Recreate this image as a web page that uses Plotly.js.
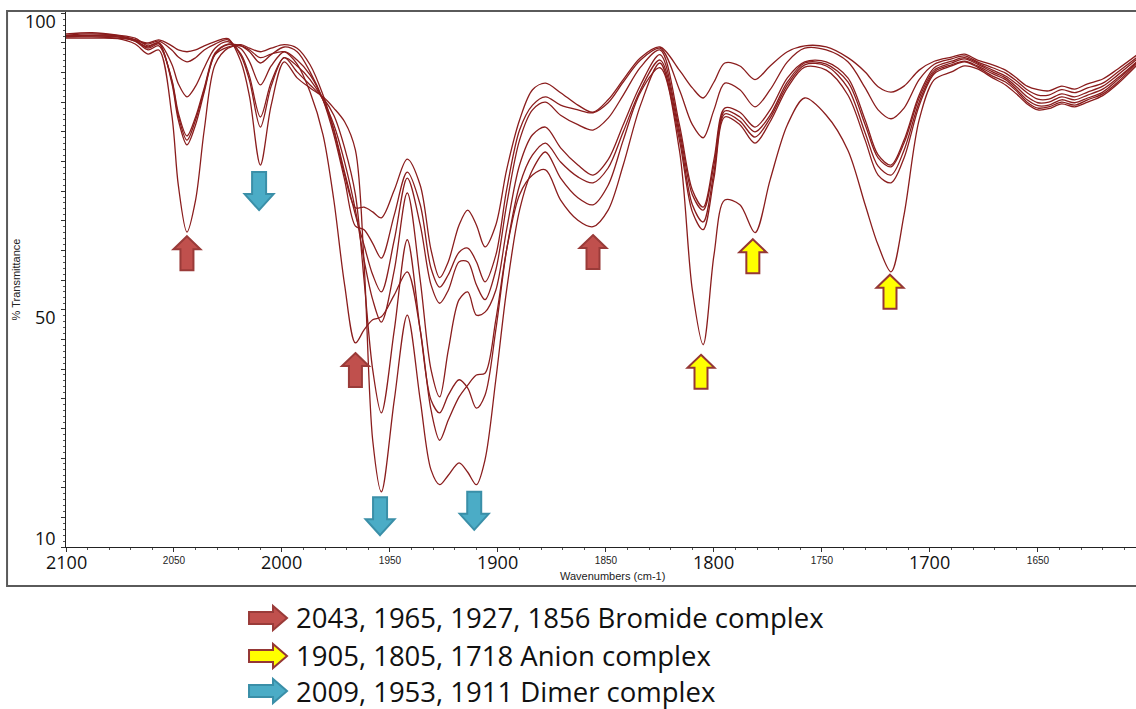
<!DOCTYPE html>
<html>
<head>
<meta charset="utf-8">
<script src="https://cdn.plot.ly/plotly-3.0.1.min.js"></script>
<style>
  html, body { margin: 0; padding: 0; background: #ffffff; }
  #chart { width: 1136px; height: 709px; }
</style>
</head>
<body>
<div id="chart"></div>
<script>
// Wavenumber grid (cm-1) shared by all spectra
const wavenumber = [
  2100, 2088, 2076, 2068, 2062, 2057, 2051, 2048, 2044, 2040, 2036, 2031, 2025, 2019, 2015, 2010, 2005, 1999, 1993,
  1987, 1981, 1976, 1971, 1966, 1962, 1958, 1954, 1948, 1942, 1936, 1931, 1927, 1923, 1918, 1914, 1910, 1906, 1901, 1896, 1890, 1884,
  1878, 1871, 1863, 1856, 1849, 1842, 1834, 1825, 1816, 1810, 1805, 1800, 1795, 1788, 1781, 1774, 1766, 1758,
  1748, 1738, 1730, 1724, 1718, 1712, 1705, 1698, 1690, 1684,
  1678, 1671, 1665, 1660, 1655, 1650, 1645, 1639, 1633, 1627, 1620, 1613, 1604
];

// % Transmittance of each spectrum
const spectrum1 = [
  96.5, 96.7, 96.3, 95.8, 94.5, 95.0, 88.2, 82.0, 77.8, 81.2, 86.7, 93.0, 94.3, 94.7, 94.1, 93.5, 94.1, 94.7, 94.1,
  91.3, 86.2, 80.3, 72.7, 67.2, 67.3, 66.5, 65.5, 70.2, 75.4, 71.0, 60.1, 55.4, 58.1, 64.3, 66.8, 64.3, 60.6, 64.3, 73.6, 82.0, 87.1,
  88.2, 86.6, 84.5, 83.3, 85.4, 88.8, 92.5, 94.3, 90.4, 87.4, 85.7, 88.4, 91.6, 91.1, 88.8, 91.1, 93.5, 94.5,
  94.3, 92.5, 90.1, 87.6, 86.7, 87.7, 90.4, 91.9, 92.6, 93.1,
  92.1, 91.3, 90.4, 89.1, 87.7, 87.1, 86.9, 87.7, 87.2, 88.1, 88.9, 90.6, 93.0
];
const spectrum2 = [
  96.3, 96.5, 96.2, 95.5, 94.1, 94.8, 88.6, 82.7, 78.6, 82.0, 87.1, 93.1, 94.7, 94.5, 93.5, 91.6, 93.0, 94.3, 93.5,
  90.1, 85.4, 79.5, 71.9, 64.1, 63.5, 61.2, 58.7, 66.0, 73.2, 67.7, 57.0, 53.8, 55.9, 59.7, 60.4, 58.1, 54.7, 59.2, 70.2, 80.3, 84.5,
  85.9, 84.5, 83.7, 83.2, 84.9, 88.4, 92.1, 94.1, 87.1, 81.2, 79.0, 83.7, 88.2, 87.1, 84.2, 87.1, 91.8, 94.1,
  93.8, 91.8, 87.4, 83.7, 82.2, 84.0, 88.8, 91.4, 92.3, 92.8,
  91.8, 90.8, 89.9, 88.6, 87.1, 86.2, 86.2, 87.1, 86.6, 87.4, 88.2, 90.1, 92.6
];
const spectrum3 = [
  96.2, 96.3, 96.2, 95.3, 93.8, 94.5, 88.8, 83.2, 79.3, 82.5, 87.4, 93.3, 94.8, 94.0, 91.8, 87.9, 91.1, 93.5, 92.1,
  89.6, 85.4, 80.3, 73.2, 66.0, 60.9, 55.9, 53.0, 61.8, 72.2, 64.3, 54.2, 51.1, 53.3, 58.1, 58.1, 54.2, 51.7, 56.7, 67.7, 78.6, 83.7,
  85.0, 82.8, 81.2, 80.3, 82.3, 86.2, 90.9, 93.8, 81.2, 70.2, 67.3, 75.3, 84.0, 83.3, 80.8, 83.7, 89.1, 91.8,
  91.8, 89.1, 82.0, 76.1, 74.4, 78.6, 86.2, 90.8, 91.9, 92.5,
  91.6, 90.4, 89.4, 88.1, 86.6, 85.5, 85.5, 86.4, 85.9, 86.7, 87.7, 89.6, 92.3
];
const spectrum4 = [
  96.2, 96.2, 96.0, 95.3, 94.3, 95.0, 91.4, 88.1, 85.9, 87.7, 90.8, 94.1, 95.2, 93.1, 89.3, 82.5, 88.4, 92.5, 91.1,
  88.8, 85.4, 81.2, 74.9, 66.8, 58.4, 51.7, 47.9, 56.7, 69.7, 55.0, 39.9, 35.3, 43.2, 51.7, 53.0, 49.1, 49.6, 53.3, 63.5, 74.4, 79.5,
  80.8, 77.3, 74.4, 72.7, 75.3, 81.2, 87.9, 93.0, 80.3, 69.4, 66.8, 74.4, 83.5, 82.5, 80.0, 82.8, 88.4, 91.6,
  91.4, 88.4, 81.2, 75.6, 74.1, 78.1, 85.7, 90.4, 91.6, 92.3,
  91.4, 90.1, 89.1, 87.6, 85.9, 84.9, 85.0, 85.9, 85.4, 86.2, 87.2, 89.1, 91.9
];
const spectrum5 = [
  96.0, 96.2, 96.0, 95.5, 94.8, 95.3, 93.8, 92.6, 91.8, 92.5, 93.8, 94.8, 95.5, 92.8, 88.6, 80.8, 87.7, 92.5, 90.1,
  87.9, 85.7, 82.8, 77.3, 69.4, 55.0, 39.9, 32.6, 46.6, 61.8, 46.6, 34.8, 32.6, 35.6, 38.2, 36.8, 33.4, 35.6, 46.6, 60.1, 71.0, 76.1,
  78.1, 74.9, 72.4, 71.4, 73.9, 80.0, 87.1, 92.1, 79.5, 67.7, 64.8, 73.2, 83.0, 81.8, 79.1, 82.3, 87.9, 91.3,
  91.1, 87.4, 79.8, 74.2, 72.7, 76.9, 85.0, 90.1, 91.3, 91.9,
  91.1, 89.8, 88.8, 87.2, 85.4, 84.4, 84.5, 85.4, 84.9, 85.7, 86.7, 88.8, 91.8
];
const spectrum6 = [
  96.0, 96.0, 95.8, 95.5, 95.0, 95.5, 94.5, 93.8, 93.5, 93.8, 94.5, 95.2, 95.7, 91.8, 85.9, 74.4, 84.5, 91.8, 89.1,
  87.4, 85.9, 84.0, 81.7, 76.9, 57.9, 28.0, 19.3, 34.8, 49.1, 34.8, 23.0, 20.5, 22.1, 24.2, 22.6, 20.5, 24.7, 38.2, 53.3, 66.8, 73.6,
  76.6, 72.2, 68.9, 67.7, 71.0, 78.6, 86.7, 90.8, 76.9, 53.3, 44.1, 59.2, 68.5, 67.7, 63.0, 71.9, 81.2, 85.7,
  82.8, 76.9, 67.7, 60.9, 56.4, 66.0, 82.0, 88.8, 90.1, 91.1,
  90.6, 89.1, 87.9, 86.4, 84.7, 83.7, 83.9, 84.7, 84.2, 85.0, 86.1, 88.1, 91.3
];
const spectrum7 = [
  95.8, 95.8, 95.7, 94.8, 93.1, 93.8, 82.8, 71.0, 63.1, 68.5, 80.3, 91.3, 94.1, 94.5, 93.8, 92.5, 93.1, 93.5, 91.4,
  86.7, 79.5, 68.5, 54.2, 44.4, 46.6, 48.3, 48.8, 52.5, 56.4, 46.6, 33.1, 28.0, 31.4, 35.3, 37.3, 39.0, 39.3, 48.3, 60.1, 69.4, 72.7,
  73.6, 68.5, 65.1, 64.0, 66.8, 74.4, 84.5, 91.6, 78.6, 66.5, 63.5, 72.2, 82.5, 81.2, 78.1, 81.7, 87.4, 90.9,
  90.4, 86.2, 78.6, 72.7, 71.4, 75.6, 84.4, 89.8, 91.1, 91.8,
  90.9, 89.4, 88.4, 86.9, 85.0, 84.0, 84.2, 85.0, 84.5, 85.4, 86.4, 88.4, 91.6
];
const spectra = [spectrum1, spectrum2, spectrum3, spectrum4, spectrum5, spectrum6, spectrum7];

// Axis tick labels
const smallTickVals = [2050, 1950, 1850, 1750, 1650];
const largeTickVals = [2100, 2000, 1900, 1800, 1700];
const yLabelVals = [100, 50, 10];

// Band markers: position (cm-1) and %T at the arrow tip
const bromideBands = [2044, 1966, 1856];
const bromideTips = [62.4, 42.7, 62.6];
const anionBands = [1806, 1782, 1718.5];
const anionTips = [42.4, 61.9, 55.9];
const dimerBands = [2010.6, 1954.6, 1911];
const dimerTips = [66.8, 12.0, 12.9];

// Legend rows
const legendLabels = [
  '2043, 1965, 1927, 1856 Bromide complex',
  '1905, 1805, 1718 Anion complex',
  '2009, 1953, 1911 Dimer complex'
];

// ---- styling ----
const LINE_COLOR = '#8a1d1d';
const RED = { fill: '#c0504d', line: '#9a3b39' };
const YELLOW = { fill: '#ffff00', line: '#953735' };
const BLUE = { fill: '#4bacc6', line: '#3a8fa8' };
const legendStyles = [RED, YELLOW, BLUE];
const BIG_FONT = 'Open Sans, Liberation Sans, sans-serif';
const SMALL_FONT = 'Liberation Sans, Arial, sans-serif';

const UP_ARROW = 'M0,0 L13.5,-13 L6.5,-13 L6.5,-34 L-6.5,-34 L-6.5,-13 L-13.5,-13 Z';
const DOWN_ARROW = 'M0,0 L14.5,16 L7,16 L7,38 L-7,38 L-7,16 L-14.5,16 Z';
const RIGHT_ARROW = 'M19,0 L5,12 L5,6 L-19,6 L-19,-6 L5,-6 L5,-12 Z';

const traces = spectra.map((s, i) => ({
  type: 'scatter',
  mode: 'lines',
  name: 'Spectrum ' + (i + 1),
  x: wavenumber,
  y: s,
  line: { color: LINE_COLOR, width: 1.3, shape: 'spline', smoothing: 0.9 },
  hoverinfo: 'skip'
}));

function bandArrow(x, y, path, style) {
  return {
    type: 'path', xref: 'x', yref: 'y',
    xsizemode: 'pixel', ysizemode: 'pixel',
    xanchor: x, yanchor: y, path: path,
    fillcolor: style.fill, line: { color: style.line, width: 2 },
    layer: 'above'
  };
}

const shapes = [];
bromideBands.forEach((b, i) => shapes.push(bandArrow(b, bromideTips[i], UP_ARROW, RED)));
anionBands.forEach((b, i) => shapes.push(bandArrow(b, anionTips[i], UP_ARROW, YELLOW)));
dimerBands.forEach((b, i) => shapes.push(bandArrow(b, dimerTips[i], DOWN_ARROW, BLUE)));

// outer frame around the spectrum panel
shapes.push({
  type: 'rect', xref: 'paper', yref: 'paper',
  x0: -0.0551, x1: 1.003, y0: -0.0729, y1: 1.0019,
  line: { color: '#5a5a5a', width: 2 }, fillcolor: 'rgba(0,0,0,0)', layer: 'above'
});

const annotations = [];

// legend rows below the panel
const legendRowY = [-0.1327, -0.2037, -0.2692];
legendLabels.forEach((t, i) => {
  shapes.push({
    type: 'path', xref: 'paper', yref: 'paper',
    xsizemode: 'pixel', ysizemode: 'pixel',
    xanchor: 0.1888, yanchor: legendRowY[i], path: RIGHT_ARROW,
    fillcolor: legendStyles[i].fill, line: { color: legendStyles[i].line, width: 2 }
  });
  annotations.push({
    xref: 'paper', yref: 'paper', x: 0.2140, y: legendRowY[i],
    xanchor: 'left', yanchor: 'middle', showarrow: false, text: t,
    borderpad: 0,
    font: { family: BIG_FONT, size: 27.5, color: '#111111' }
  });
});

// large wavenumber labels under the axis
largeTickVals.forEach(v => {
  annotations.push({
    xref: 'x', yref: 'paper', x: v, y: 0, yshift: -15,
    xanchor: 'center', yanchor: 'middle', showarrow: false, text: String(v),
    font: { family: BIG_FONT, size: 18, color: '#111111' }
  });
});

// x-axis title
annotations.push({
  xref: 'paper', yref: 'paper', x: 0.5103, y: -0.0542,
  xanchor: 'center', yanchor: 'middle', showarrow: false,
  text: 'Wavenumbers (cm-1)',
  font: { family: SMALL_FONT, size: 11, color: '#222222' }
});

// y-axis value labels
const yLabelShift = [-8, -7, 9];
yLabelVals.forEach((v, i) => {
  annotations.push({
    xref: 'paper', yref: 'y', x: -0.0075, y: v, yshift: yLabelShift[i],
    xanchor: 'right', yanchor: 'middle', showarrow: false, text: String(v),
    font: { family: BIG_FONT, size: 18, color: '#111111' }
  });
});

const layout = {
  width: 1136, height: 709,
  margin: { l: 66, r: 0, t: 12, b: 162, pad: 0 },
  paper_bgcolor: '#ffffff', plot_bgcolor: '#ffffff',
  showlegend: false,
  xaxis: {
    range: [2100, 1604.6], showgrid: false, zeroline: false,
    showline: true, linecolor: '#222222', linewidth: 1,
    tickmode: 'array', tickvals: smallTickVals.concat(largeTickVals),
    ticktext: smallTickVals.map(String).concat(largeTickVals.map(() => '')),
    ticks: 'outside', ticklen: 4, tickcolor: '#333333', tickwidth: 1,
    tickfont: { family: SMALL_FONT, size: 10, color: '#222222' },
    minor: { dtick: 10, tick0: 2100, ticks: 'outside', ticklen: 2, tickcolor: '#555555', showgrid: false }
  },
  yaxis: {
    range: [10, 100.2], showgrid: false, zeroline: false,
    showline: true, linecolor: '#222222', linewidth: 1,
    tick0: 10, dtick: 5, ticks: 'outside', ticklen: 4, tickcolor: '#333333',
    showticklabels: false,
    minor: { dtick: 1, tick0: 10, ticks: 'outside', ticklen: 2, tickcolor: '#555555', showgrid: false },
    title: {
      text: '% Transmittance', standoff: 38,
      font: { family: SMALL_FONT, size: 11, color: '#222222' }
    }
  },
  shapes: shapes,
  annotations: annotations
};

Plotly.newPlot('chart', traces, layout, { staticPlot: true, displayModeBar: false });
</script>
</body>
</html>
